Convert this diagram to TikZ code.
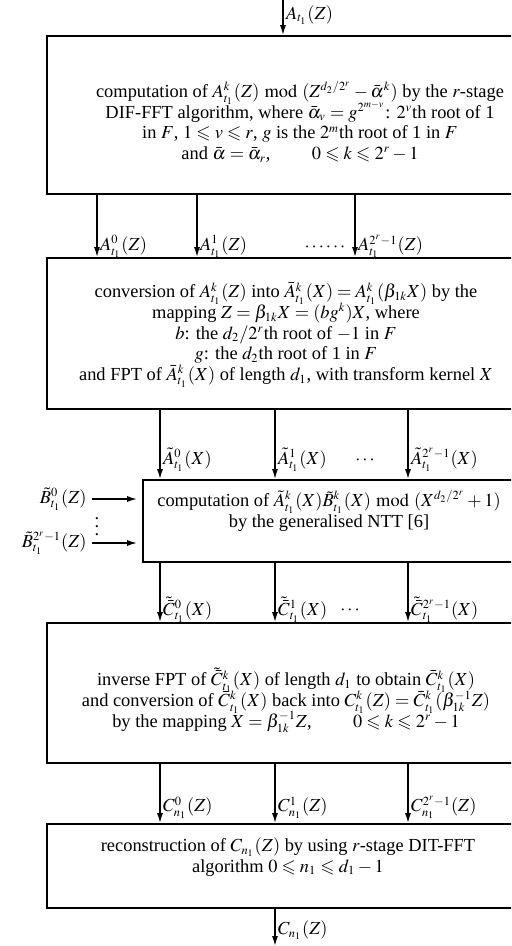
\documentclass[tikz,border=0pt]{standalone}
\usepackage{mathptmx}
\usepackage{amssymb}
\usepackage[no-math]{fontspec}
\setmainfont{Liberation Serif}
\usetikzlibrary{arrows.meta}
\DeclareMathSizes{9.2}{9.2}{6.2}{5}
\newcommand\flowfont{\fontsize{9.2}{10.3}\selectfont\lineskiplimit=-20pt\relax\lineskip=0pt\relax}

\begin{document}
\begin{tikzpicture}[x=0.5pt,y=-0.5pt,
  font=\flowfont,
  stage/.style={draw,line width=0.9pt,inner sep=0pt},
  txt/.style={align=center,inner sep=0pt},
  lab/.style={right,inner sep=1.2pt},
  arr/.style={-{Latex[length=5pt,width=3pt]},line width=0.7pt},
]
\useasboundingbox (0,0) rectangle (511,946);
\clip (0,0) rectangle (511,946);

% ---------------- stages ----------------
\node[stage,minimum width=241.5pt,minimum height=79pt] (fft) at (288.5,115) {};
\node[txt] (fft-t) at (300,122) {computation of $A^k_{t_1}(Z) \bmod (Z^{d_2/2^r}-\bar\alpha^k)$ by the $r$-stage\\
  DIF-FFT algorithm, where $\bar\alpha_v=g^{2^{m-v}}$: $2^v$th root of 1\\
  in $F$, $1\leqslant v\leqslant r$, $g$ is the $2^m$th root of 1 in $F$\\
  and $\bar\alpha=\bar\alpha_r$, \qquad $0\leqslant k\leqslant 2^r-1$};

\node[stage,minimum width=239pt,minimum height=75.5pt] (conv) at (286,333.5) {};
\node[txt] (conv-t) at (286,335) {conversion of $A^k_{t_1}(Z)$ into $\bar A{}^k_{t_1}(X)=A^k_{t_1}(\beta_{1k}X)$ by the\\
  mapping $Z=\beta_{1k}X=(bg^k)X$, where\\
  $b$: the $d_2/2^r$th root of $-1$ in $F$\\
  $g$: the $d_2$th root of 1 in $F$\\
  and FPT of $\bar A{}^k_{t_1}(X)$ of length $d_1$, with transform kernel $X$};

\node[stage,minimum width=186pt,minimum height=41pt] (ntt) at (329,521) {};
\node[txt] (ntt-t) at (329,511) {computation of $\tilde A{}^k_{t_1}(X)\tilde B{}^k_{t_1}(X) \bmod (X^{d_2/2^r}+1)$\\
  by the generalised NTT [6]};

\node[stage,minimum width=239pt,minimum height=70pt] (inv) at (286,693) {};
\node[txt] (inv-t) at (286,700) {inverse FPT of $\tilde{\bar C}{}^k_{t_1}(X)$ of length $d_1$ to obtain $\bar C{}^k_{t_1}(X)$\\
  and conversion of $\bar C{}^k_{t_1}(X)$ back into $C^k_{t_1}(Z)=\bar C{}^k_{t_1}(\beta^{-1}_{1k}Z)$\\
  by the mapping $X=\beta^{-1}_{1k}Z$, \qquad $0\leqslant k\leqslant 2^r-1$};

\node[stage,minimum width=241pt,minimum height=42pt] (rec) at (288,866) {};
\node[txt] (rec-t) at (288,857) {reconstruction of $C_{n_1}(Z)$ by using $r$-stage DIT-FFT\\
  algorithm $0\leqslant n_1\leqslant d_1-1$};

% ---------------- columns ----------------
\coordinate (in) at (283,0);
\coordinate (out) at (275,946);
\coordinate (u1) at (97,0);  \coordinate (u2) at (197,0); \coordinate (u3) at (355,0);
\coordinate (v1) at (160,0); \coordinate (v2) at (275,0); \coordinate (v3) at (408,0);

% ---------------- arrows ----------------
\draw[arr] (in) -- (fft.north -| in) node[lab,pos=0.42] (l-in) {$A_{t_1}(Z)$};

\draw[arr] (fft.south -| u1) -- (conv.north -| u1) node[lab,pos=0.83] (la0) {$A^0_{t_1}(Z)$};
\draw[arr] (fft.south -| u2) -- (conv.north -| u2) node[lab,pos=0.83] (la1) {$A^1_{t_1}(Z)$};
\draw[arr] (fft.south -| u3) -- (conv.north -| u3) node[lab,pos=0.83] (la2) {$A^{2^r-1}_{t_1}(Z)$};
\node (da) at (325,247) {$\cdots\cdots$};

\draw[arr] (conv.south -| v1) -- (ntt.north -| v1) node[lab,pos=0.72] (lt0) {$\tilde A{}^0_{t_1}(X)$};
\draw[arr] (conv.south -| v2) -- (ntt.north -| v2) node[lab,pos=0.72] (lt1) {$\tilde A{}^1_{t_1}(X)$};
\draw[arr] (conv.south -| v3) -- (ntt.north -| v3) node[lab,pos=0.72] (lt2) {$\tilde A{}^{2^r-1}_{t_1}(X)$};
\node (dt) at (365,460) {$\cdots$};

% inputs from the left
\node[anchor=east,inner sep=1pt] (b0) at (89,499) {$\tilde B{}^0_{t_1}(Z)$};
\node[anchor=east,inner sep=1pt] (bn) at (89,543) {$\tilde B{}^{2^r-1}_{t_1}(Z)$};
\node (db) at (97,521) {$\vdots$};
\draw[arr,shorten <=1.5pt,shorten >=2.5pt] (b0.east) -- (b0.east -| ntt.west);
\draw[arr,shorten <=1.5pt,shorten >=2.5pt] (bn.east) -- (bn.east -| ntt.west);

\draw[arr] (ntt.south -| v1) -- (inv.north -| v1) node[lab,pos=0.79] (lc0) {$\tilde{\bar C}{}^0_{t_1}(X)$};
\draw[arr] (ntt.south -| v2) -- (inv.north -| v2) node[lab,pos=0.79] (lc1) {$\tilde{\bar C}{}^1_{t_1}(X)$};
\draw[arr] (ntt.south -| v3) -- (inv.north -| v3) node[lab,pos=0.79] (lc2) {$\tilde{\bar C}{}^{2^r-1}_{t_1}(X)$};
\node (dc) at (350,610) {$\cdots$};

\draw[arr] (inv.south -| v1) -- (rec.north -| v1) node[lab,pos=0.74] (ln0) {$C^0_{n_1}(Z)$};
\draw[arr] (inv.south -| v2) -- (rec.north -| v2) node[lab,pos=0.74] (ln1) {$C^1_{n_1}(Z)$};
\draw[arr] (inv.south -| v3) -- (rec.north -| v3) node[lab,pos=0.74] (ln2) {$C^{2^r-1}_{n_1}(Z)$};

\draw[arr] (rec.south -| out) -- (out) node[lab,pos=0.58] (l-out) {$C_{n_1}(Z)$};
\end{tikzpicture}
\end{document}
